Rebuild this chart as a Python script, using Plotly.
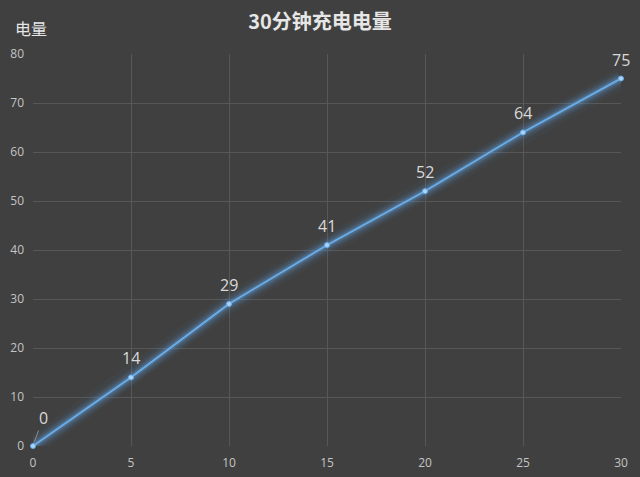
import plotly.graph_objects as go

minutes = [0, 5, 10, 15, 20, 25, 30]
charge = [0, 14, 29, 41, 52, 64, 75]
x_ticks = [0, 5, 10, 15, 20, 25, 30]
y_ticks = [0, 10, 20, 30, 40, 50, 60, 70, 80]

bg = '#404040'
num_font = 'Open Sans, Noto Sans'

fig = go.Figure()

# glow under the line
for w, a in [(20, 0.05), (14, 0.09), (10, 0.15), (6, 0.28)]:
    fig.add_trace(go.Scatter(x=minutes, y=charge, mode='lines', hoverinfo='skip', cliponaxis=False,
                             line=dict(color=f'rgba(91,155,213,{a})', width=w), showlegend=False))

fig.add_trace(go.Scatter(
    x=minutes, y=charge, mode='lines+markers', cliponaxis=False,
    line=dict(color='#6aaae4', width=2),
    marker=dict(color='#a8d4ff', size=5, line=dict(color='#6aaae4', width=1)),
    showlegend=False,
))

# data labels
annotations = []
for i, (m, c) in enumerate(zip(minutes, charge)):
    if i == 0:
        annotations.append(dict(x=m, y=c, text=str(c), showarrow=True, arrowhead=0,
                                arrowwidth=1, arrowcolor='#8c8c8c', ax=10, ay=-28, standoff=4,
                                font=dict(family=num_font, size=16, color='#d9d9d9')))
    else:
        annotations.append(dict(x=m, y=c, text=str(c), showarrow=False, yshift=19,
                                font=dict(family=num_font, size=16, color='#d9d9d9')))
annotations.append(dict(text='电量', xref='paper', yref='paper', x=-0.034, y=1.067,
                        xanchor='left', yanchor='middle', showarrow=False,
                        font=dict(family='Noto Sans CJK SC', size=16, color='#e6e6e6')))

fig.update_layout(
    width=640, height=477,
    paper_bgcolor=bg, plot_bgcolor=bg,
    margin=dict(l=33, r=19, t=54, b=31),
    title=dict(text='<b>30分钟充电电量</b>', x=0.5, xanchor='center', y=0.954, yanchor='middle',
               font=dict(family='Noto Sans CJK SC', size=20, color='#e6e6e6')),
    xaxis=dict(range=[0, 30], tickvals=x_ticks, showgrid=True, gridcolor='#575757', gridwidth=1,
               zeroline=False, showline=False, ticks='', automargin=False, ticklabelstandoff=8,
               tickfont=dict(family=num_font, size=12, color='#c4c4c4')),
    yaxis=dict(range=[0, 80], tickvals=y_ticks, showgrid=True, gridcolor='#575757', gridwidth=1,
               zeroline=False, showline=False, ticks='', automargin=False, ticklabelstandoff=8,
               tickfont=dict(family=num_font, size=12, color='#c4c4c4')),
    annotations=annotations,
)

# drop the browser's default page margin so the figure fills the window
fig.write_html('out.html', config={'displayModeBar': False},
               post_script="document.body.style.margin='0';document.body.style.background='#404040';")
